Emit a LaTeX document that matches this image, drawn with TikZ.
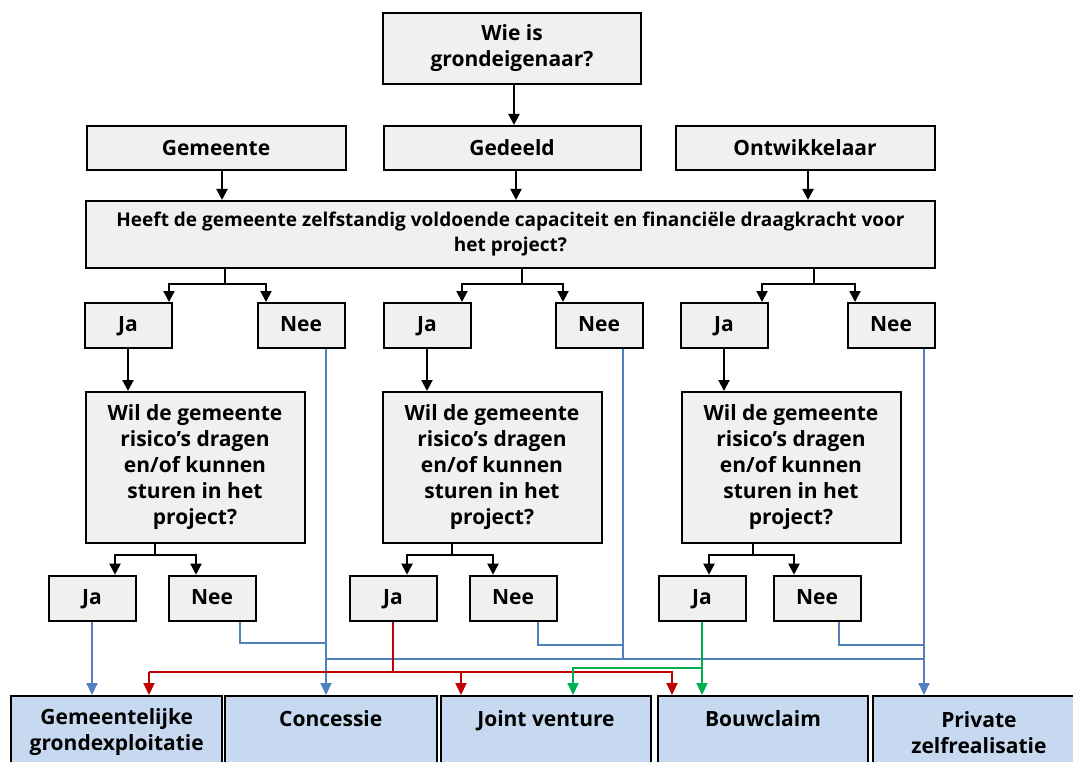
\documentclass[tikz,border=0pt]{standalone}
\usepackage{fontspec}
\setmainfont{Open Sans}
\usetikzlibrary{arrows.meta,calc}
\definecolor{gfill}{HTML}{F0F0F0}
\definecolor{bfill}{HTML}{C6D9F1}
\definecolor{lblue}{HTML}{4F81BD}
\definecolor{lred}{HTML}{C00000}
\definecolor{lgreen}{HTML}{00B050}
\begin{document}
\begin{tikzpicture}[x=1pt,y=-1pt,
  txt/.style={font=\bfseries\fontsize{21}{26}\selectfont},
  box/.style={txt,draw=black,line width=2pt,fill=gfill,inner sep=0pt,align=center},
  yn/.style={box,minimum width=87,minimum height=45,text height=15pt,text depth=3pt},
  bbox/.style={draw=black,line width=2pt,fill=bfill,inner sep=0pt},
  btext/.style={txt,align=center,inner sep=0pt},
  blk/.style={draw=black,line width=2pt},
  blkarr/.style={blk,-{Triangle[length=11pt,width=11pt]}},
  bl/.style={draw=lblue,line width=2pt},
  blarr/.style={bl,-{Triangle[length=12pt,width=11pt]}},
  rd/.style={draw=lred,line width=2pt},
  rdarr/.style={rd,-{Triangle[length=12pt,width=11pt]}},
  gr/.style={draw=lgreen,line width=2pt},
  grarr/.style={gr,-{Triangle[length=12pt,width=11pt]}}
]
\useasboundingbox (0,0) rectangle (1073,762);
\fill[white] (0,0) rectangle (1073,762);

% top
\node[box,minimum width=258,minimum height=71] (top) at (512,48.5) {Wie is\\grondeigenaar?};
\node[box,minimum width=259,minimum height=44] (gem) at (216,148) {Gemeente};
\node[box,minimum width=257,minimum height=44] (ged) at (512,148) {Gedeeld};
\node[box,minimum width=259,minimum height=44] (ont) at (805,148) {Ontwikkelaar};
\node[box,minimum width=849,minimum height=67,font=\bfseries\fontsize{19}{25}\selectfont] (heeft) at (510.5,234.5) {Heeft de gemeente zelfstandig voldoende capaciteit en financiële draagkracht voor\\het project?};

% level 1 ja/nee
\node[yn] (ja1) at (128,325.5) {Ja};
\node[yn] (nee1) at (301,325.5) {Nee};
\node[yn] (ja2) at (427,325.5) {Ja};
\node[yn] (nee2) at (599,325.5) {Nee};
\node[yn] (ja3) at (724,325.5) {Ja};
\node[yn] (nee3) at (891,325.5) {Nee};

% wil boxes
\node[box,minimum width=219,minimum height=151] (wil1) at (195,467.5) {Wil de gemeente\\risico’s dragen\\en/of kunnen\\sturen in het\\project?};
\node[box,minimum width=219,minimum height=151] (wil2) at (492,467.5) {Wil de gemeente\\risico’s dragen\\en/of kunnen\\sturen in het\\project?};
\node[box,minimum width=219,minimum height=151] (wil3) at (791,467.5) {Wil de gemeente\\risico’s dragen\\en/of kunnen\\sturen in het\\project?};

% level 2 ja/nee
\node[yn] (jaa) at (92,598.2) {Ja};
\node[yn] (neea) at (212,598.2) {Nee};
\node[yn] (jab) at (393,598.2) {Ja};
\node[yn] (neeb) at (513,598.2) {Nee};
\node[yn] (jac) at (702,598.2) {Ja};
\node[yn] (neec) at (817,598.2) {Nee};

% bottom boxes
\node[bbox,minimum width=210.7,minimum height=90,anchor=north] (gx) at (116.75,695) {};
\node[bbox,minimum width=211.7,minimum height=90,anchor=north] (con) at (330.75,695) {};
\node[bbox,minimum width=210.4,minimum height=90,anchor=north] (jv) at (546,695) {};
\node[bbox,minimum width=210.5,minimum height=90,anchor=north] (bc) at (763,695) {};
\node[bbox,minimum width=212,minimum height=90,anchor=north] (pz) at (978.9,695) {};
\node[btext] (gxt) at (116.75,732.5) {Gemeentelijke\\grondexploitatie};
\node[btext,text height=15pt,text depth=3pt] (cont) at (330.75,720) {Concessie};
\node[btext,text height=15pt,text depth=3pt] (jvt) at (546,720) {Joint venture};
\node[btext,text height=15pt,text depth=3pt] (bct) at (763,720) {Bouwclaim};
\node[btext] (pzt) at (978.9,732.5) {Private\\zelfrealisatie};

% black connectors
\draw[blkarr] ([xshift=2]top.south) -- ([xshift=2]top.south |- ged.north);
\draw[blkarr] ([xshift=6]gem.south) -- ([xshift=6]gem.south |- heeft.north);
\draw[blkarr] ([xshift=4]ged.south) -- ([xshift=4]ged.south |- heeft.north);
\draw[blkarr] ([xshift=3]ont.south) -- ([xshift=3]ont.south |- heeft.north);

\coordinate (h1) at (225,283.5);
\coordinate (h2) at (522,283.5);
\coordinate (h3) at (814,283.5);
\draw[blk] (h1 |- heeft.south) -- (h1);
\draw[blk] (h2 |- heeft.south) -- (h2);
\draw[blk] (h3 |- heeft.south) -- (h3);
\draw[blkarr] (h1) -| ([xshift=41]ja1.north);
\draw[blkarr] (h1) -| ([xshift=-35]nee1.north);
\draw[blkarr] (h2) -| ([xshift=35]ja2.north);
\draw[blkarr] (h2) -| ([xshift=-36]nee2.north);
\draw[blkarr] (h3) -| ([xshift=38]ja3.north);
\draw[blkarr] (h3) -| ([xshift=-36]nee3.north);

\draw[blkarr] (ja1.south) -- (ja1.south |- wil1.north);
\draw[blkarr] (ja2.south) -- (ja2.south |- wil2.north);
\draw[blkarr] (ja3.south) -- (ja3.south |- wil3.north);

\coordinate (w1) at (155,555);
\coordinate (w2) at (452,555);
\coordinate (w3) at (753,555);
\draw[blk] (w1 |- wil1.south) -- (w1);
\draw[blk] (w2 |- wil2.south) -- (w2);
\draw[blk] (w3 |- wil3.south) -- (w3);
\draw[blkarr] (w1) -| ([xshift=23]jaa.north);
\draw[blkarr] (w1) -| ([xshift=-16]neea.north);
\draw[blkarr] (w2) -| ([xshift=14]jab.north);
\draw[blkarr] (w2) -| ([xshift=-20]neeb.north);
\draw[blkarr] (w3) -| ([xshift=7]jac.north);
\draw[blkarr] (w3) -| ([xshift=-23]neec.north);

% blue connectors
\coordinate (bj1) at (326,643);
\coordinate (bj2) at (623,645);
\coordinate (bj3) at (924,645);
\coordinate (bh1) at (326,659);
\coordinate (bh2) at (924,659);
\draw[blarr] (jaa.south) -- (jaa.south |- gx.north);
\draw[blarr] ([xshift=25]nee1.south) -- ([xshift=25]nee1.south |- con.north);
\draw[bl] ([xshift=28]neea.south) |- (bj1);
\draw[bl] (bh1) -- (bh2);
\draw[bl] ([xshift=24]nee2.south) -- ([xshift=24]nee2.south |- bh1);
\draw[bl] ([xshift=25]neeb.south) |- (bj2);
\draw[bl] ([xshift=22]neec.south) |- (bj3);
\draw[blarr] ([xshift=33]nee3.south) -- ([xshift=33]nee3.south |- pz.north);

% red connectors
\coordinate (rj) at (393,672);
\draw[rd] (jab.south) -- (rj);
\draw[rd] (rj) -- (149,672) coordinate (rl);
\draw[rdarr] (rl) -- (rl |- gx.north);
\draw[rdarr] (rj) -| ([xshift=-85]jv.north);
\draw[rdarr] (rj) -| ([xshift=-91]bc.north);

% green connectors
\coordinate (gj) at (702,668);
\draw[grarr] (jac.south) -- (jac.south |- bc.north);
\draw[grarr] (gj) -| ([xshift=27]jv.north);
\end{tikzpicture}
\end{document}
